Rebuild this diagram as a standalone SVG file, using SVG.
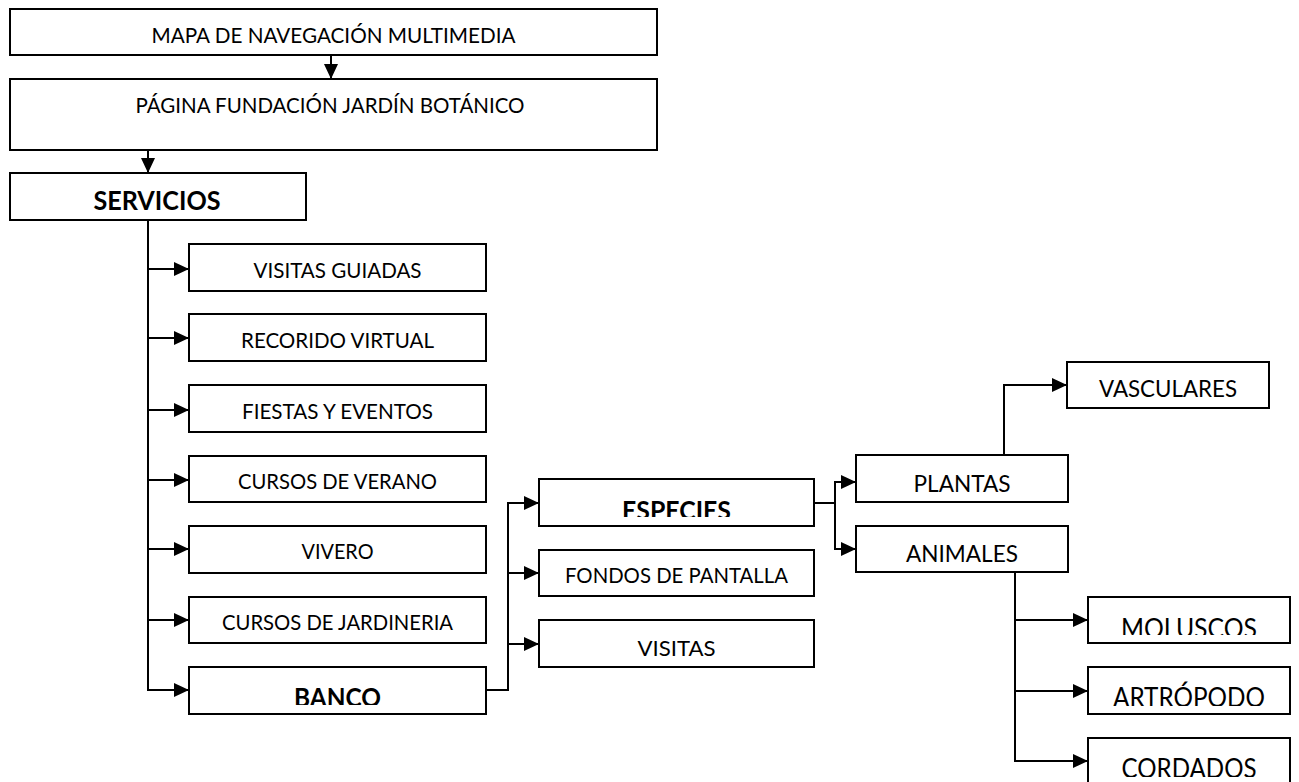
<svg xmlns="http://www.w3.org/2000/svg" width="1299" height="782" viewBox="0 0 1299 782">
<style>
  rect.box { fill: #fff; stroke: #000; stroke-width: 2; }
  text { font-family: Lato, "Open Sans", "Liberation Sans", sans-serif; fill: #000; text-anchor: middle; }
  .r11 { font-size: 21.5px; }
  .r12 { font-size: 23.3px; }
  .r13 { font-size: 26px; }
  .b { font-size: 26px; font-weight: bold; }
  .conn path { fill: none; stroke: #000; stroke-width: 2; }
</style>
<defs>
  <marker id="ah" markerUnits="userSpaceOnUse" markerWidth="15" markerHeight="14" refX="15" refY="7" orient="auto">
    <path d="M0,0 L15,7 L0,14 Z" fill="#000"/>
  </marker>
  <clipPath id="cEspecies"><rect x="540" y="480" width="273" height="37"/></clipPath>
  <clipPath id="cBanco"><rect x="190" y="668" width="295" height="37"/></clipPath>
  <clipPath id="cMoluscos"><rect x="1089" y="598" width="200" height="37"/></clipPath>
  <clipPath id="cArtropodo"><rect x="1089" y="668" width="200" height="38"/></clipPath>
  <clipPath id="cCordados"><rect x="1089" y="739" width="200" height="38"/></clipPath>
</defs>
<rect width="1299" height="782" fill="#fff"/>

<g class="conn" id="connectors">
  <path d="M331,55 V79" marker-end="url(#ah)"/>
  <path d="M148,150 V173" marker-end="url(#ah)"/>
  <path d="M148,220 V690 H189" marker-end="url(#ah)"/>
  <path d="M148,269 H189" marker-end="url(#ah)"/>
  <path d="M148,338 H189" marker-end="url(#ah)"/>
  <path d="M148,410 H189" marker-end="url(#ah)"/>
  <path d="M148,480 H189" marker-end="url(#ah)"/>
  <path d="M148,549 H189" marker-end="url(#ah)"/>
  <path d="M148,620 H189" marker-end="url(#ah)"/>
  <path d="M486,690 H508 V503 H539" marker-end="url(#ah)"/>
  <path d="M508,573 H539" marker-end="url(#ah)"/>
  <path d="M508,644 H539" marker-end="url(#ah)"/>
  <path d="M814,503 H835 V482 H856" marker-end="url(#ah)"/>
  <path d="M835,503 V549 H856" marker-end="url(#ah)"/>
  <path d="M1004,455 V385 H1067" marker-end="url(#ah)"/>
  <path d="M1015,572 V761 H1088" marker-end="url(#ah)"/>
  <path d="M1015,620 H1088" marker-end="url(#ah)"/>
  <path d="M1015,691 H1088" marker-end="url(#ah)"/>
</g>

<g id="mapa"><rect class="box" x="10" y="9" width="647" height="46"/><text class="r11" x="333.5" y="43" textLength="364" lengthAdjust="spacingAndGlyphs">MAPA DE NAVEGACIÓN MULTIMEDIA</text></g>
<g id="pagina"><rect class="box" x="10" y="79" width="647" height="71"/><text class="r11" x="330" y="113" textLength="389" lengthAdjust="spacingAndGlyphs">PÁGINA FUNDACIÓN JARDÍN BOTÁNICO</text></g>
<g id="servicios"><rect class="box" x="10" y="173" width="296" height="47"/><text class="b" x="157" y="210" textLength="127" lengthAdjust="spacingAndGlyphs">SERVICIOS</text></g>

<g id="visitas-guiadas"><rect class="box" x="189" y="244" width="297" height="47"/><text class="r11" x="337.5" y="278" textLength="168" lengthAdjust="spacingAndGlyphs">VISITAS GUIADAS</text></g>
<g id="recorido-virtual"><rect class="box" x="189" y="314" width="297" height="47"/><text class="r11" x="337.5" y="348" textLength="193" lengthAdjust="spacingAndGlyphs">RECORIDO VIRTUAL</text></g>
<g id="fiestas"><rect class="box" x="189" y="385" width="297" height="47"/><text class="r11" x="337.5" y="419" textLength="191" lengthAdjust="spacingAndGlyphs">FIESTAS Y EVENTOS</text></g>
<g id="cursos-verano"><rect class="box" x="189" y="456" width="297" height="46"/><text class="r11" x="337.5" y="489" textLength="199" lengthAdjust="spacingAndGlyphs">CURSOS DE VERANO</text></g>
<g id="vivero"><rect class="box" x="189" y="526" width="297" height="47"/><text class="r11" x="337.5" y="559" textLength="72" lengthAdjust="spacingAndGlyphs">VIVERO</text></g>
<g id="cursos-jardineria"><rect class="box" x="189" y="597" width="297" height="46"/><text class="r11" x="337.5" y="630" textLength="231" lengthAdjust="spacingAndGlyphs">CURSOS DE JARDINERIA</text></g>
<g id="banco"><rect class="box" x="189" y="667" width="297" height="47"/><text class="b" x="337.5" y="707" textLength="87" lengthAdjust="spacingAndGlyphs" clip-path="url(#cBanco)">BANCO</text></g>

<g id="especies"><rect class="box" x="539" y="479" width="275" height="47"/><text class="b" x="676.5" y="520" textLength="109" lengthAdjust="spacingAndGlyphs" clip-path="url(#cEspecies)">ESPECIES</text></g>
<g id="fondos"><rect class="box" x="539" y="550" width="275" height="46"/><text class="r11" x="676.5" y="583" textLength="223" lengthAdjust="spacingAndGlyphs">FONDOS DE PANTALLA</text></g>
<g id="visitas"><rect class="box" x="539" y="620" width="275" height="47"/><text class="r11" x="676.5" y="656" textLength="78" lengthAdjust="spacingAndGlyphs">VISITAS</text></g>

<g id="plantas"><rect class="box" x="856" y="455" width="212" height="47"/><text class="r12" x="962" y="492" textLength="97" lengthAdjust="spacingAndGlyphs">PLANTAS</text></g>
<g id="animales"><rect class="box" x="856" y="526" width="212" height="46"/><text class="r12" x="962" y="562" textLength="112" lengthAdjust="spacingAndGlyphs">ANIMALES</text></g>
<g id="vasculares"><rect class="box" x="1067" y="362" width="202" height="46"/><text class="r12" x="1168" y="397" textLength="138" lengthAdjust="spacingAndGlyphs">VASCULARES</text></g>

<g id="moluscos"><rect class="box" x="1088" y="597" width="202" height="46"/><text class="r13" x="1189" y="638" textLength="136" lengthAdjust="spacingAndGlyphs" clip-path="url(#cMoluscos)">MOLUSCOS</text></g>
<g id="artropodo"><rect class="box" x="1088" y="667" width="202" height="47"/><text class="r13" x="1189" y="707" textLength="152" lengthAdjust="spacingAndGlyphs" clip-path="url(#cArtropodo)">ARTRÓPODO</text></g>
<g id="cordados"><rect class="box" x="1088" y="738" width="202" height="50"/><text class="r13" x="1189" y="778" textLength="135" lengthAdjust="spacingAndGlyphs" clip-path="url(#cCordados)">CORDADOS</text></g>
</svg>
